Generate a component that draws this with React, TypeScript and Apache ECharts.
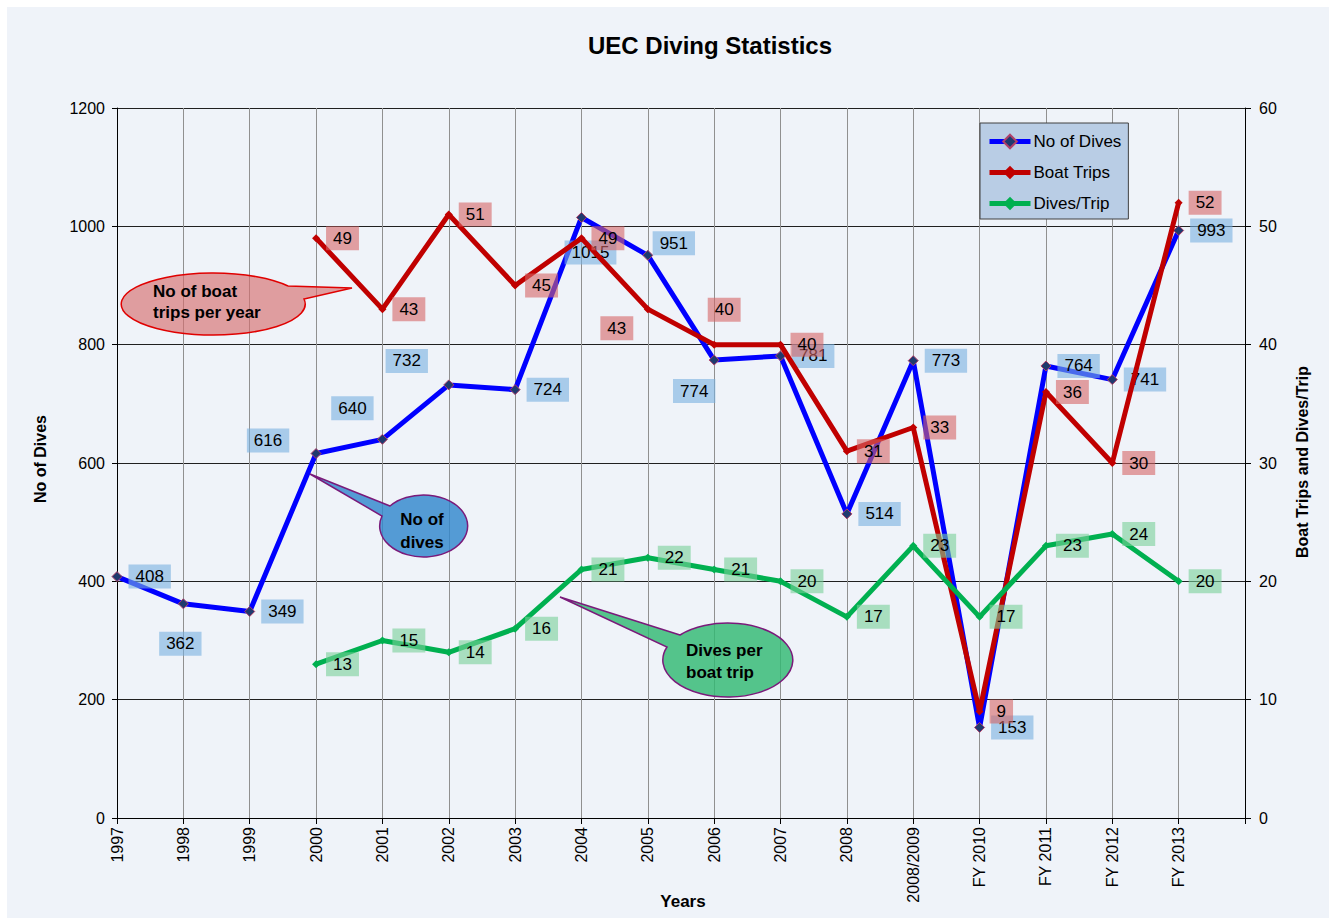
import React, { useEffect, useRef } from "react";
import * as echarts from "echarts";

const categories = ["1997", "1998", "1999", "2000", "2001", "2002", "2003", "2004", "2005", "2006", "2007", "2008", "2008/2009", "FY 2010", "FY 2011", "FY 2012", "FY 2013", ""];
const dives = [408, 362, 349, 616, 640, 732, 724, 1015, 951, 774, 781, 514, 773, 153, 764, 741, 993];
const boatTrips = [null, null, null, 49, 43, 51, 45, 49, 43, 40, 40, 31, 33, 9, 36, 30, 52];
const divesPerTrip = [null, null, null, 13, 15, 14, 16, 21, 22, 21, 20, 17, 23, 17, 23, 24, 20];
const leftTicks = { min: 0, max: 1200, interval: 200 };
const rightTicks = { min: 0, max: 60, interval: 10 };

// label centre offsets (px) for labels not placed to the right of their point
const diveLabelOffsets: Record<number, [number, number]> = {
  1: [-3, 40], 3: [-48, -13], 4: [-30, -31], 5: [-42, -24], 7: [9, 35], 8: [26, -12], 9: [-20, 31],
};
const tripLabelOffsets: Record<number, [number, number]> = {
  8: [-31, 19], 9: [10, -35],
};

const OX = 7, OY = 7;
function pathD(pts: number[][], rx: number, ry: number, sweep: number) {
  const [b1, tip, b2] = pts;
  return `M ${b1[0] - OX} ${b1[1] - OY} L ${tip[0] - OX} ${tip[1] - OY} L ${b2[0] - OX} ${b2[1] - OY} A ${rx} ${ry} 0 1 ${sweep} ${b1[0] - OX} ${b1[1] - OY} Z`;
}
echarts.graphic.registerShape("calloutRed", echarts.graphic.extendPath(pathD([[288, 286], [352, 288], [304, 299]], 92, 31, 1), {}));
echarts.graphic.registerShape("calloutBlue", echarts.graphic.extendPath(pathD([[390, 506], [310, 474], [382, 516]], 44, 31, 0), {}));
echarts.graphic.registerShape("calloutGreen", echarts.graphic.extendPath(pathD([[680, 635], [560, 597], [667, 647]], 65, 37, 0), {}));

const FONT = "Arial, 'Liberation Sans', sans-serif";

function buildData(vals: (number | null)[], offsets: Record<number, [number, number]>) {
  return vals.map((v, i) => {
    if (v === null) return null;
    const off = offsets[i];
    if (off) return { value: v, label: { position: "inside", offset: off } };
    return v;
  });
}

export default function App() {
  const ref = useRef<HTMLDivElement>(null);
  useEffect(() => {
    if (!ref.current) return;
    const chart = echarts.init(ref.current, null, { renderer: "svg" });
    const labelBase = (bg: string) => ({
      show: true,
      position: "right",
      distance: 6,
      color: "#000",
      fontSize: 17,
      fontFamily: FONT,
      backgroundColor: bg,
      padding: [4, 7, 3, 7],
    });
    const textStyle = (text: string, x: number, y: number, font: string, align = "center", rotation = 0, lh?: number) => ({
      type: "text",
      x, y, rotation,
      z: 100,
      style: {
        text, font, fill: "#000",
        textAlign: align, textVerticalAlign: "middle", align, verticalAlign: "middle",
        lineHeight: lh,
      },
    });
    chart.setOption({
      animation: false,
      backgroundColor: "#EFF3F9",
      grid: { left: 110, top: 101, right: 84, bottom: 100, containLabel: false },
      legend: {
        orient: "vertical",
        left: 973,
        top: 116,
        data: ["No of Dives", "Boat Trips", "Dives/Trip"],
        backgroundColor: "#B9CDE5",
        borderColor: "#404040",
        borderWidth: 1,
        padding: [10, 7, 7, 7],
        itemGap: 14,
        itemWidth: 41,
        itemHeight: 17,
        lineStyle: { width: 5 },
        textStyle: { fontSize: 17, fontFamily: FONT, color: "#000", padding: [0, 0, 0, -2] },
      },
      xAxis: {
        type: "category",
        boundaryGap: false,
        data: categories,
        axisLine: { lineStyle: { color: "#000", width: 1 } },
        axisTick: { show: true, length: 6, lineStyle: { color: "#000" } },
        axisLabel: { rotate: 90, margin: 9, fontSize: 16, fontFamily: FONT, color: "#000", interval: 0 },
        splitLine: { show: true, lineStyle: { color: "#909090", width: 1 } },
      },
      yAxis: [
        {
          type: "value",
          ...leftTicks,
          axisLine: { show: true, lineStyle: { color: "#000", width: 1 } },
          axisTick: { show: true, length: 5, lineStyle: { color: "#000" } },
          axisLabel: { margin: 12, fontSize: 16, fontFamily: FONT, color: "#000", formatter: (v: number) => String(v) },
          splitLine: { show: true, lineStyle: { color: "#202020", width: 1 } },
        },
        {
          type: "value",
          ...rightTicks,
          position: "right",
          axisLine: { show: true, lineStyle: { color: "#000", width: 1 } },
          axisTick: { show: true, length: 6, lineStyle: { color: "#000" } },
          axisLabel: { margin: 14, fontSize: 16, fontFamily: FONT, color: "#000", formatter: (v: number) => String(v) },
          splitLine: { show: false },
        },
      ],
      series: [
        {
          name: "No of Dives",
          type: "line",
          yAxisIndex: 0,
          data: buildData(dives, diveLabelOffsets),
          symbol: "diamond",
          symbolSize: 10,
          lineStyle: { color: "#0000FF", width: 5 },
          itemStyle: { color: "#1F3A6E", borderColor: "#B0406A", borderWidth: 1 },
          label: labelBase("rgba(120,176,224,0.6)"),
          z: 2,
        },
        {
          name: "Boat Trips",
          type: "line",
          yAxisIndex: 1,
          data: buildData(boatTrips, tripLabelOffsets),
          symbol: "diamond",
          symbolSize: 8,
          lineStyle: { color: "#C00000", width: 5 },
          itemStyle: { color: "#C00000" },
          label: labelBase("rgba(213,101,101,0.6)"),
          z: 3,
        },
        {
          name: "Dives/Trip",
          type: "line",
          yAxisIndex: 1,
          data: buildData(divesPerTrip, {}),
          symbol: "diamond",
          symbolSize: 8,
          lineStyle: { color: "#00B050", width: 5 },
          itemStyle: { color: "#00B050" },
          label: labelBase("rgba(120,208,151,0.6)"),
          z: 4,
        },
      ],
      graphic: [
        textStyle("UEC Diving Statistics", 703, 38, `bold 24px ${FONT}`),
        textStyle("No of Dives", 33, 452, `bold 16px ${FONT}`, "center", Math.PI / 2),
        textStyle("Boat Trips and Dives/Trip", 1295, 455, `bold 16px ${FONT}`, "center", Math.PI / 2),
        textStyle("Years", 676, 894, `bold 17px ${FONT}`),
        {
          type: "calloutRed", x: 0, y: 0, z: 90,
          style: { fill: "rgba(214,110,110,0.65)", stroke: "#E00000", lineWidth: 1.5 },
        },
        {
          type: "calloutBlue", x: 0, y: 0, z: 90,
          style: { fill: "rgba(50,135,205,0.82)", stroke: "#7A1A7A", lineWidth: 1.5 },
        },
        {
          type: "calloutGreen", x: 0, y: 0, z: 90,
          style: { fill: "rgba(50,185,115,0.82)", stroke: "#7A1A7A", lineWidth: 1.5 },
        },
        textStyle("No of boat\ntrips per year", 146, 295, `bold 17px ${FONT}`, "left", 0, 21),
        textStyle("No of\ndives", 415, 524, `bold 17px ${FONT}`, "center", 0, 23),
        textStyle("Dives per\nboat trip", 679, 654, `bold 17px ${FONT}`, "left", 0, 22),
      ],
    });
    return () => chart.dispose();
  }, []);
  return (
    <div
      ref={ref}
      style={{ position: "absolute", left: 7, top: 7, width: 1322, height: 911, background: "#EFF3F9" }}
    />
  );
}
